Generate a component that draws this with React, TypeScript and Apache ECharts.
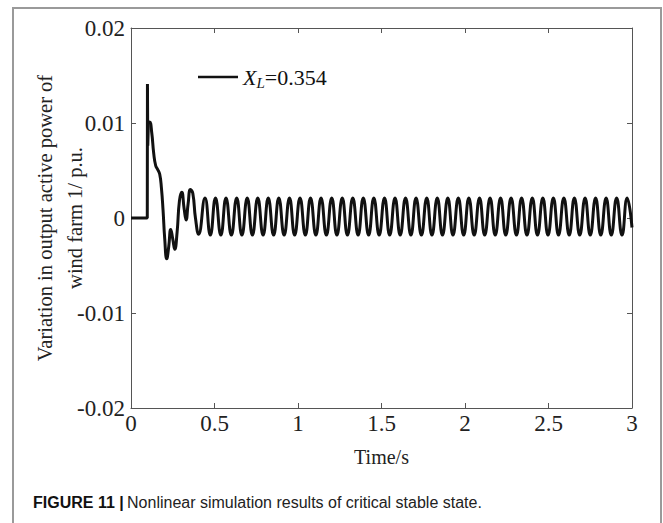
import React, { useEffect, useRef } from "react";
import * as echarts from "echarts";

// x-axis ticks (s) and y-axis ticks (p.u.)
const xTicks = [0, 0.5, 1, 1.5, 2, 2.5, 3];
const yTicks = [-0.02, -0.01, 0, 0.01, 0.02];

const seriesName = "X_L=0.354";

// Disturbance spike (drawn with straight segments)
const spikeTime = [0, 0.0975, 0.0985, 0.1005, 0.104];
const spikeValue = [0, 0, 0.0141, 0.0076, 0.01];

// Post-spike transient (smooth)
const transientTime = [
  0.104, 0.112, 0.124, 0.136, 0.148, 0.16, 0.172, 0.182, 0.192, 0.202, 0.214,
  0.226, 0.238, 0.25, 0.262, 0.276, 0.29, 0.304, 0.318, 0.33, 0.342, 0.356,
  0.37, 0.386, 0.405,
];
const transientValue = [
  0.01, 0.0101, 0.009, 0.0068, 0.0055, 0.0051, 0.0046, 0.0032, 0.0008, -0.0022,
  -0.0043, -0.003, -0.0012, -0.0022, -0.0033, -0.0015, 0.0018, 0.0027, 0.001,
  -0.0002, 0.0015, 0.003, 0.0026, 0.0, -0.0017,
];

// Sustained oscillation: peaks
const peakTime = [
  0.443, 0.506, 0.569, 0.633, 0.696, 0.759, 0.822, 0.885, 0.949, 1.012, 1.075,
  1.138, 1.202, 1.265, 1.328, 1.391, 1.454, 1.518, 1.581, 1.644, 1.707, 1.771,
  1.834, 1.897, 1.96, 2.023, 2.087, 2.15, 2.213, 2.276, 2.339, 2.403, 2.466,
  2.529, 2.592, 2.655, 2.719, 2.782, 2.845, 2.908, 2.971,
];
const peakValue = [
  0.0021, 0.0021, 0.0021, 0.0021, 0.0021, 0.0021, 0.0021, 0.0021, 0.0021,
  0.0021, 0.0021, 0.0021, 0.0021, 0.0021, 0.0021, 0.0021, 0.0021, 0.0021,
  0.0021, 0.0021, 0.0021, 0.0021, 0.0021, 0.0021, 0.0021, 0.0021, 0.0021,
  0.0021, 0.0021, 0.0021, 0.0021, 0.0021, 0.0021, 0.0021, 0.0021, 0.0021,
  0.0021, 0.0021, 0.0021, 0.0021, 0.0021,
];
// Sustained oscillation: troughs (plus end point)
const troughTime = [
  0.475, 0.538, 0.601, 0.664, 0.727, 0.791, 0.854, 0.917, 0.98, 1.044, 1.107,
  1.17, 1.233, 1.296, 1.36, 1.423, 1.486, 1.549, 1.612, 1.676, 1.739, 1.802,
  1.865, 1.928, 1.992, 2.055, 2.118, 2.181, 2.244, 2.308, 2.371, 2.434, 2.497,
  2.56, 2.624, 2.687, 2.75, 2.813, 2.876, 2.94, 3.0,
];
const troughValue = [
  -0.0018, -0.0018, -0.0018, -0.0018, -0.0018, -0.0018, -0.0018, -0.0018,
  -0.0018, -0.0018, -0.0018, -0.0018, -0.0018, -0.0018, -0.0018, -0.0018,
  -0.0018, -0.0018, -0.0018, -0.0018, -0.0018, -0.0018, -0.0018, -0.0018,
  -0.0018, -0.0018, -0.0018, -0.0018, -0.0018, -0.0018, -0.0018, -0.0018,
  -0.0018, -0.0018, -0.0018, -0.0018, -0.0018, -0.0018, -0.0018, -0.0018,
  -0.001,
];

const SERIF = "'Liberation Serif', 'Times New Roman', serif";
const SANS = "'Liberation Sans', Arial, sans-serif";

function zip(t: number[], v: number[]) {
  return t.map((x, i) => [x, v[i]]);
}

export default function App() {
  const ref = useRef<HTMLDivElement>(null);

  useEffect(() => {
    if (!ref.current) return;
    const chart = echarts.init(ref.current, null, { renderer: "svg" });

    const smoothData = [
      ...zip(transientTime, transientValue),
      ...zip(peakTime, peakValue),
      ...zip(troughTime, troughValue),
    ].sort((a, b) => a[0] - b[0]);

    const axisLine = { show: true, onZero: false, lineStyle: { color: "#555", width: 1 } };
    const tick = { show: true, inside: true, length: 5, lineStyle: { color: "#555" } };

    chart.setOption({
      animation: false,
      backgroundColor: "#fff",
      grid: { left: 131, right: 31, top: 28, bottom: 115, containLabel: false },
      legend: {
        left: 193,
        top: 61,
        itemWidth: 40,
        itemHeight: 2.5,
        icon: "rect",
        data: [seriesName],
        formatter: () => "{x|X}{l|L}{n|=0.354}",
        textStyle: {
          color: "#111",
          fontFamily: SERIF,
          fontSize: 22,
          rich: {
            x: { fontFamily: SERIF, fontSize: 22, fontStyle: "italic", color: "#111" },
            l: {
              fontFamily: SERIF,
              fontSize: 15,
              fontStyle: "italic",
              color: "#111",
              padding: [12, 0, 0, 0],
            },
            n: { fontFamily: SERIF, fontSize: 22, color: "#111" },
          },
        },
      },
      xAxis: [
        {
          type: "value",
          min: xTicks[0],
          max: xTicks[xTicks.length - 1],
          interval: 0.5,
          position: "bottom",
          axisLine,
          axisTick: tick,
          splitLine: { show: false },
          axisLabel: {
            margin: 4,
            fontSize: 23,
            fontFamily: SERIF,
            color: "#222",
            formatter: (v: number) => String(parseFloat(v.toFixed(2))),
          },
          name: "Time/s",
          nameLocation: "middle",
          nameGap: 39,
          nameMoveOverlap: false,
          nameTextStyle: { fontSize: 20, fontFamily: SERIF, color: "#222" },
        },
        {
          type: "value",
          min: xTicks[0],
          max: xTicks[xTicks.length - 1],
          interval: 0.5,
          position: "top",
          axisLine,
          axisTick: tick,
          splitLine: { show: false },
          axisLabel: { show: false },
        },
      ],
      yAxis: [
        {
          type: "value",
          min: yTicks[0],
          max: yTicks[yTicks.length - 1],
          interval: 0.01,
          position: "left",
          axisLine,
          axisTick: tick,
          splitLine: { show: false },
          axisLabel: {
            margin: 6,
            fontSize: 23,
            fontFamily: SERIF,
            color: "#222",
            formatter: (v: number) => String(parseFloat(v.toFixed(3))),
          },
          name: "Variation in output active power of\nwind farm 1/ p.u.",
          nameLocation: "middle",
          nameGap: 41,
          nameMoveOverlap: false,
          nameTextStyle: {
            fontSize: 20.5,
            lineHeight: 30,
            fontFamily: SERIF,
            color: "#222",
          },
        },
        {
          type: "value",
          min: yTicks[0],
          max: yTicks[yTicks.length - 1],
          interval: 0.01,
          position: "right",
          axisLine,
          axisTick: tick,
          splitLine: { show: false },
          axisLabel: { show: false },
        },
      ],
      series: [
        {
          name: seriesName,
          type: "line",
          xAxisIndex: 0,
          yAxisIndex: 0,
          showSymbol: false,
          symbol: "none",
          lineStyle: { color: "#111", width: 3 },
          itemStyle: { color: "#111" },
          data: zip(spikeTime, spikeValue),
        },
        {
          name: seriesName,
          type: "line",
          xAxisIndex: 0,
          yAxisIndex: 0,
          showSymbol: false,
          symbol: "none",
          smooth: true,
          lineStyle: { color: "#111", width: 3 },
          itemStyle: { color: "#111" },
          data: smoothData,
        },
      ],
      graphic: [
        {
          type: "rect",
          silent: true,
          shape: { x: 13, y: 8, width: 648, height: 600 },
          style: { fill: "none", stroke: "#9a9a9a", lineWidth: 2 },
        },
        {
          type: "text",
          silent: true,
          x: 33,
          y: 494,
          style: {
            text: "{b|FIGURE 11 |} {r|Nonlinear simulation results of critical stable state.}",
            rich: {
              b: { fontFamily: SANS, fontSize: 16, fontWeight: "bold", fill: "#111" },
              r: { fontFamily: SANS, fontSize: 16, fill: "#222" },
            },
          },
        },
      ],
    });

    return () => chart.dispose();
  }, []);

  return (
    <div
      ref={ref}
      style={{ position: "fixed", left: 0, top: 0, width: 663, height: 523 }}
    />
  );
}
